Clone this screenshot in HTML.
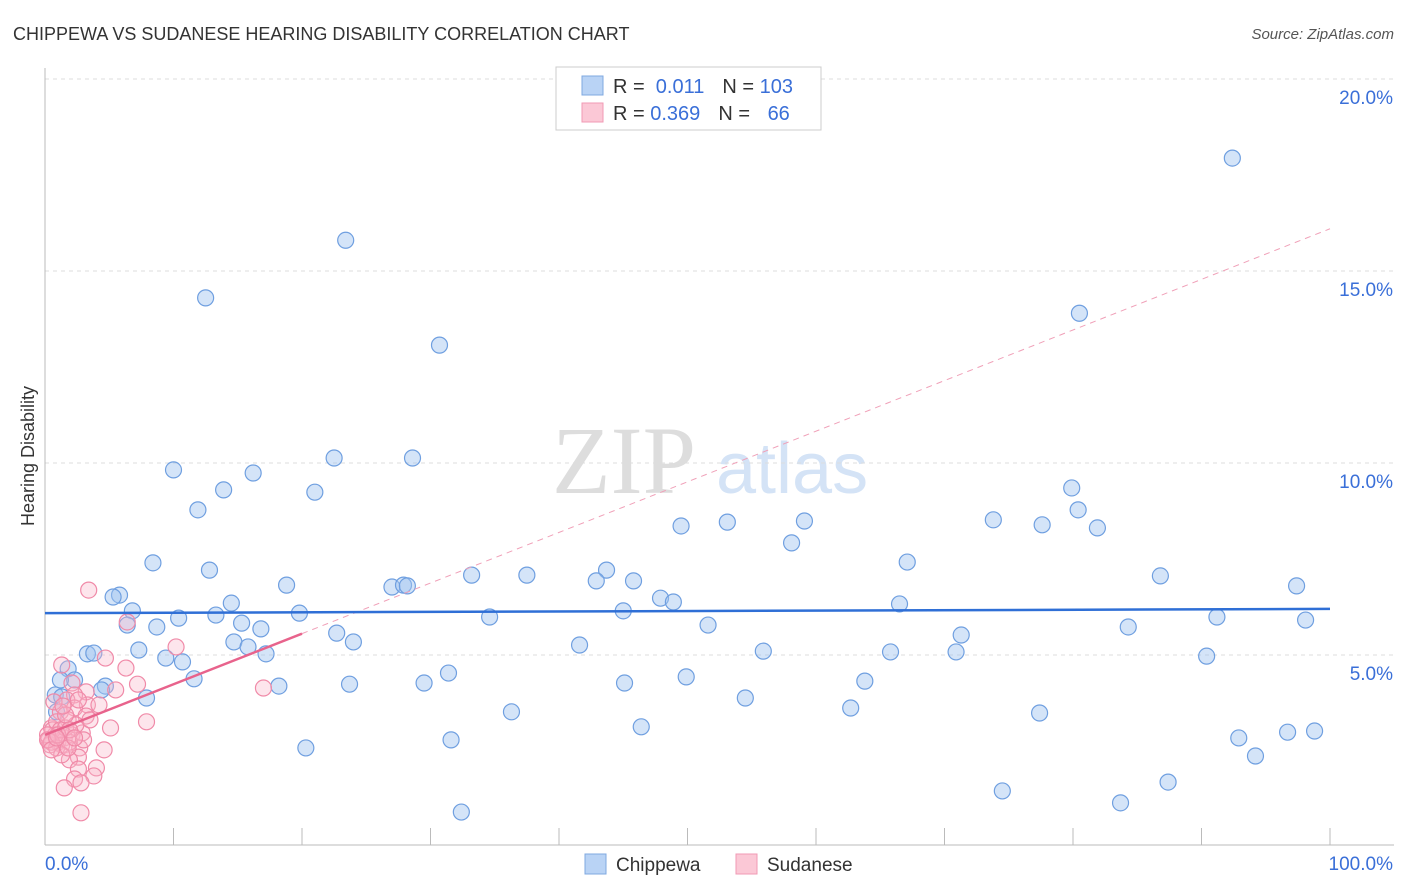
<!DOCTYPE html>
<html><head><meta charset="utf-8"><style>
body{margin:0;background:#fff;font-family:"Liberation Sans",sans-serif}
svg{display:block}
</style></head><body>
<svg id="chart" width="1406" height="892">
<text x="13" y="40" font-size="18" fill="#333">CHIPPEWA VS SUDANESE HEARING DISABILITY CORRELATION CHART</text>
<text x="1394" y="39" font-size="15" fill="#555" text-anchor="end" font-style="italic">Source: ZipAtlas.com</text>
<g>
<text x="552" y="493" font-size="96" fill="#ddd" font-family="Liberation Serif,serif">ZIP</text>
<text x="716" y="493" font-size="72" fill="#d4e3f6">atlas</text>
</g>
<g id="grid"></g>
<g id="axes"></g>
<g id="marks"></g>
<g>
<rect x="556" y="67" width="265" height="63" fill="#fff" stroke="#ccc"/>
<rect x="582" y="76" width="21" height="19" fill="#b9d3f5" stroke="#7fa8e0"/>
<rect x="582" y="103" width="21" height="19" fill="#fbc8d6" stroke="#f09ab4"/>
<text x="613" y="93" font-size="20" fill="#333">R = <tspan fill="#3a6fd8">&#160;0.011</tspan><tspan dx="18">N = </tspan><tspan fill="#3a6fd8">103</tspan></text>
<text x="613" y="120" font-size="20" fill="#333">R = <tspan fill="#3a6fd8">0.369</tspan><tspan dx="18">N = </tspan><tspan fill="#3a6fd8" dx="12">66</tspan></text>
</g>
<g>
<rect x="585" y="854" width="21" height="20" fill="#b9d3f5" stroke="#7fa8e0"/>
<text x="616" y="871" font-size="19" fill="#333">Chippewa</text>
<rect x="736" y="854" width="21" height="20" fill="#fbc8d6" stroke="#f09ab4"/>
<text x="767" y="871" font-size="19" fill="#333">Sudanese</text>
</g>
<text transform="translate(34,456) rotate(-90)" font-size="18" fill="#333" text-anchor="middle">Hearing Disability</text>
</svg>
<script>
const yTicks=[5,10,15,20];
const yTickLabels=["5.0%","10.0%","15.0%","20.0%"];
const xTicks=[0,10,20,30,40,50,60,70,80,90,100];
const blueX=[92.4,23.4,12.5,80.5,30.7,10.0,16.2,22.5,28.6,13.9,21.0,11.9,79.9,80.4,81.9,73.8,77.6,53.1,59.1,49.5,58.1,8.4,12.8,67.1,43.7,33.2,37.5,86.8,42.9,45.8,97.4,18.8,27.0,27.9,28.2,5.8,5.3,14.5,6.8,47.9,48.9,66.5,45.0,19.8,13.3,10.4,34.6,91.2,98.1,6.4,8.7,15.3,16.8,51.6,84.3,22.7,71.3,14.7,24.0,41.6,15.8,17.2,65.8,70.9,55.9,90.4,3.3,3.8,7.3,9.4,10.7,1.8,11.6,2.3,31.4,49.9,63.8,45.1,29.5,23.7,18.2,4.7,4.4,0.8,1.3,7.9,54.5,62.7,36.3,77.4,46.4,92.9,96.7,98.8,31.6,20.3,94.2,87.4,74.5,83.7,32.4,1.2,0.9];
const blueY=[17.94,15.8,14.3,13.9,13.07,9.82,9.74,10.13,10.13,9.30,9.24,8.78,9.35,8.78,8.31,8.52,8.39,8.46,8.49,8.36,7.92,7.40,7.21,7.42,7.21,7.08,7.08,7.06,6.93,6.93,6.80,6.82,6.77,6.82,6.80,6.56,6.51,6.35,6.15,6.48,6.38,6.33,6.15,6.09,6.04,5.96,5.99,5.99,5.91,5.78,5.73,5.83,5.68,5.78,5.73,5.57,5.52,5.34,5.34,5.26,5.21,5.03,5.08,5.08,5.10,4.97,5.03,5.05,5.13,4.92,4.82,4.64,4.38,4.35,4.53,4.43,4.32,4.27,4.27,4.24,4.19,4.19,4.09,3.96,3.91,3.88,3.88,3.62,3.52,3.49,3.13,2.84,2.99,3.02,2.79,2.58,2.37,1.69,1.46,1.15,0.91,4.35,3.52];
const pinkX=[3.4,6.4,10.2,4.7,1.3,6.3,2.1,7.2,17.0,5.5,3.2,2.3,1.7,3.3,1.2,2.3,3.2,5.1,7.9,1.8,0.5,0.8,0.3,1.0,1.5,2.1,2.9,0.4,1.3,2.7,4.6,2.6,1.9,4.0,2.6,3.8,2.3,2.8,1.5,2.8,0.6,0.9,1.2,1.6,0.2,0.5,0.9,1.9,2.4,1.6,2.6,3.5,0.7,1.4,4.2,0.2,1.0,1.9,3.0,1.3,0.5,1.8,2.3,0.9];
const pinkY=[6.69,5.86,5.21,4.92,4.74,4.66,4.27,4.24,4.14,4.09,4.04,3.96,3.83,3.70,3.52,3.62,3.41,3.10,3.26,3.31,3.10,2.92,2.79,2.73,2.84,2.92,2.97,2.66,2.66,2.58,2.53,2.34,2.27,2.06,2.03,1.85,1.77,1.67,1.54,0.89,3.05,3.26,3.05,3.10,2.92,2.73,2.58,2.73,3.18,3.44,3.83,3.31,3.78,3.67,3.70,2.79,2.92,3.05,2.79,2.40,2.53,2.58,2.84,2.84];
const blueTrend=[6.09,6.2];
const pinkTrend=[2.92,16.1];
const NS="http://www.w3.org/2000/svg";
const X=v=>45+v*12.85, Y=v=>847-v*38.4;
function mk(tag,attrs,parent){const e=document.createElementNS(NS,tag);for(const k in attrs)e.setAttribute(k,attrs[k]);parent.appendChild(e);return e;}
const grid=document.getElementById('grid'),axes=document.getElementById('axes'),marks=document.getElementById('marks');
yTicks.forEach((t,i)=>{
 const l=mk('line',{x1:45,x2:1394,y1:Y(t),y2:Y(t),stroke:'#ddd','stroke-dasharray':'4,4'},grid);
 
 
 const tx=mk('text',{x:1393,y:Y(t)+25,'font-size':19,fill:'#3a6fd8','text-anchor':'end'},axes);
 tx.textContent=yTickLabels[i];
 
 
});
const topGrid=mk('line',{x1:45,x2:1394,y1:Y(20),y2:Y(20),stroke:'#ddd','stroke-dasharray':'4,4'},grid);


const ax=mk('line',{x1:45,x2:1394,y1:845,y2:845,stroke:'#bbb'},axes);


const ay=mk('line',{x1:45,x2:45,y1:68,y2:845,stroke:'#bbb'},axes);


xTicks.forEach(t=>{
 const l=mk('line',{x1:X(t),x2:X(t),y1:828,y2:845,stroke:'#bbb'},axes);
 
 
});
const xl0=mk('text',{x:45,y:870,'font-size':19,fill:'#3a6fd8'},axes);xl0.textContent='0.0%';


const xl1=mk('text',{x:1393,y:870,'font-size':19,fill:'#3a6fd8','text-anchor':'end'},axes);xl1.textContent='100.0%';


blueX.forEach((v,i)=>{
 const c=mk('circle',{cx:X(v),cy:Y(blueY[i]),r:8,fill:'rgba(160,196,240,0.45)',stroke:'#6f9fe0','stroke-width':1.2},marks);
 
 
});
pinkX.forEach((v,i)=>{
 const c=mk('circle',{cx:X(v),cy:Y(pinkY[i]),r:8,fill:'rgba(248,180,200,0.35)',stroke:'#f08aa8','stroke-width':1.2},marks);
 
 
});
const pv=x=>pinkTrend[0]+(pinkTrend[1]-pinkTrend[0])*x/100;
const pd=mk('line',{x1:X(20),y1:Y(pv(20)),x2:X(100),y2:Y(pv(100)),stroke:'#f0a0b8','stroke-width':1,'stroke-dasharray':'6,5'},marks);


const ps=mk('line',{x1:X(0),y1:Y(pv(0)),x2:X(20),y2:Y(pv(20)),stroke:'#e8638c','stroke-width':2.5},marks);


const bl=mk('line',{x1:X(0),y1:Y(blueTrend[0]),x2:X(100),y2:Y(blueTrend[1]),stroke:'#2f6fd6','stroke-width':2.5},marks);


</script>
</body></html>
